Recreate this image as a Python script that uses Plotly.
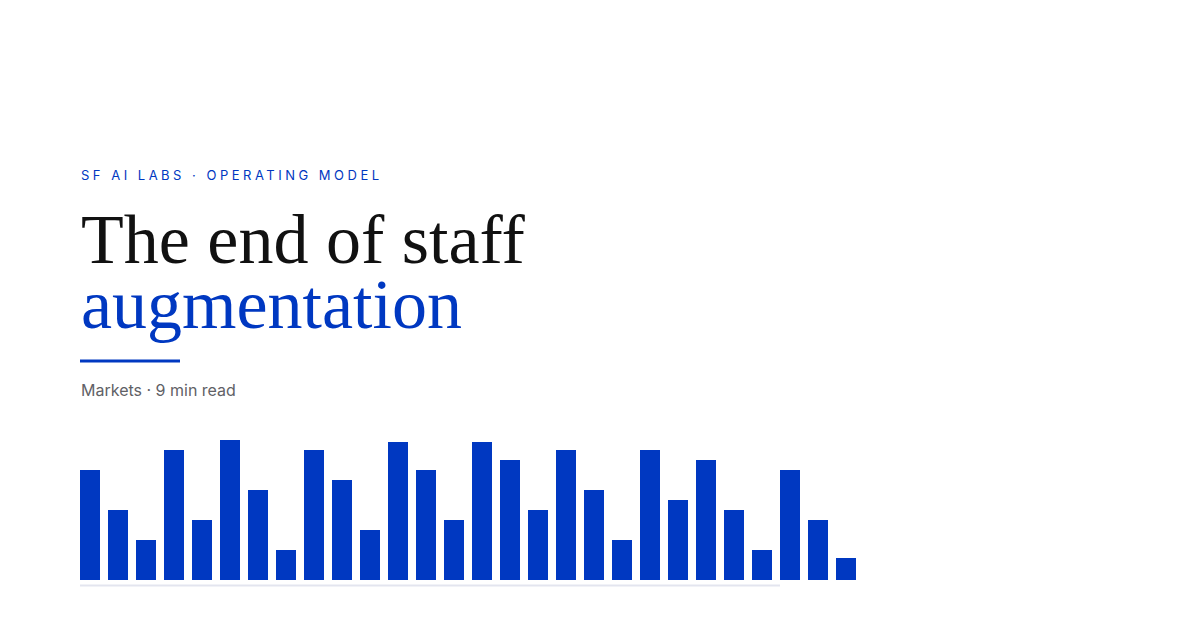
import plotly.graph_objects as go

W, H = 1200, 630
OFF = 8  # page body margin offset in the browser

# ---- data ----
bar_index = list(range(1, 29))
bar_values = [110, 70, 40, 130, 60, 140, 90, 30, 130, 100, 50, 138, 110, 60,
              138, 120, 70, 130, 90, 40, 130, 80, 120, 70, 30, 110, 60, 22]

eyebrow = "SF AI LABS · OPERATING MODEL"
title_line1 = "The end of staff"
title_line2 = "augmentation"
meta = "Markets · 9 min read"

BLUE = "#0038c1"


def py(px):
    return 1 - (px - OFF) / H


def pxx(px):
    return (px - OFF) / W


fig = go.Figure()
fig.add_trace(go.Bar(
    x=bar_index, y=bar_values,
    marker=dict(color=BLUE, line=dict(width=0)),
    hoverinfo="skip",
))

fig.update_layout(
    width=W, height=H, autosize=False,
    margin=dict(l=0, r=0, t=0, b=0),
    paper_bgcolor="white", plot_bgcolor="white",
    showlegend=False,
    bargap=8 / 28,
    xaxis=dict(domain=[pxx(76), pxx(860)], range=[0.5, 28.5],
               visible=False, fixedrange=True),
    yaxis=dict(domain=[py(580), py(440)], range=[0, 140],
               visible=False, fixedrange=True),
)

# baseline track
fig.add_shape(type="line", xref="paper", yref="paper",
              x0=pxx(80), x1=pxx(780), y0=py(585.5), y1=py(585.5),
              line=dict(color="#e3e5ef", width=2), layer="below")
# accent rule
fig.add_shape(type="line", xref="paper", yref="paper",
              x0=pxx(80), x1=pxx(180), y0=py(361), y1=py(361),
              line=dict(color=BLUE, width=3))

annos = [
    dict(text=f'<span style="letter-spacing:3.5px">{eyebrow}</span>',
         y=175, font=dict(family="Inter", size=13, color=BLUE)),
    dict(text=title_line1, y=239,
         font=dict(family="Liberation Serif", size=70, color="#111111")),
    dict(text=title_line2, y=304,
         font=dict(family="Liberation Serif", size=70, color=BLUE)),
    dict(text=meta, y=390,
         font=dict(family="Inter", size=16, color="#5f6166")),
]
for a in annos:
    fig.add_annotation(text=a["text"], xref="paper", yref="paper",
                       x=pxx(80), y=py(a["y"]), xanchor="left", yanchor="middle",
                       showarrow=False, font=a["font"], borderpad=0)

fig.write_html("out.html")
